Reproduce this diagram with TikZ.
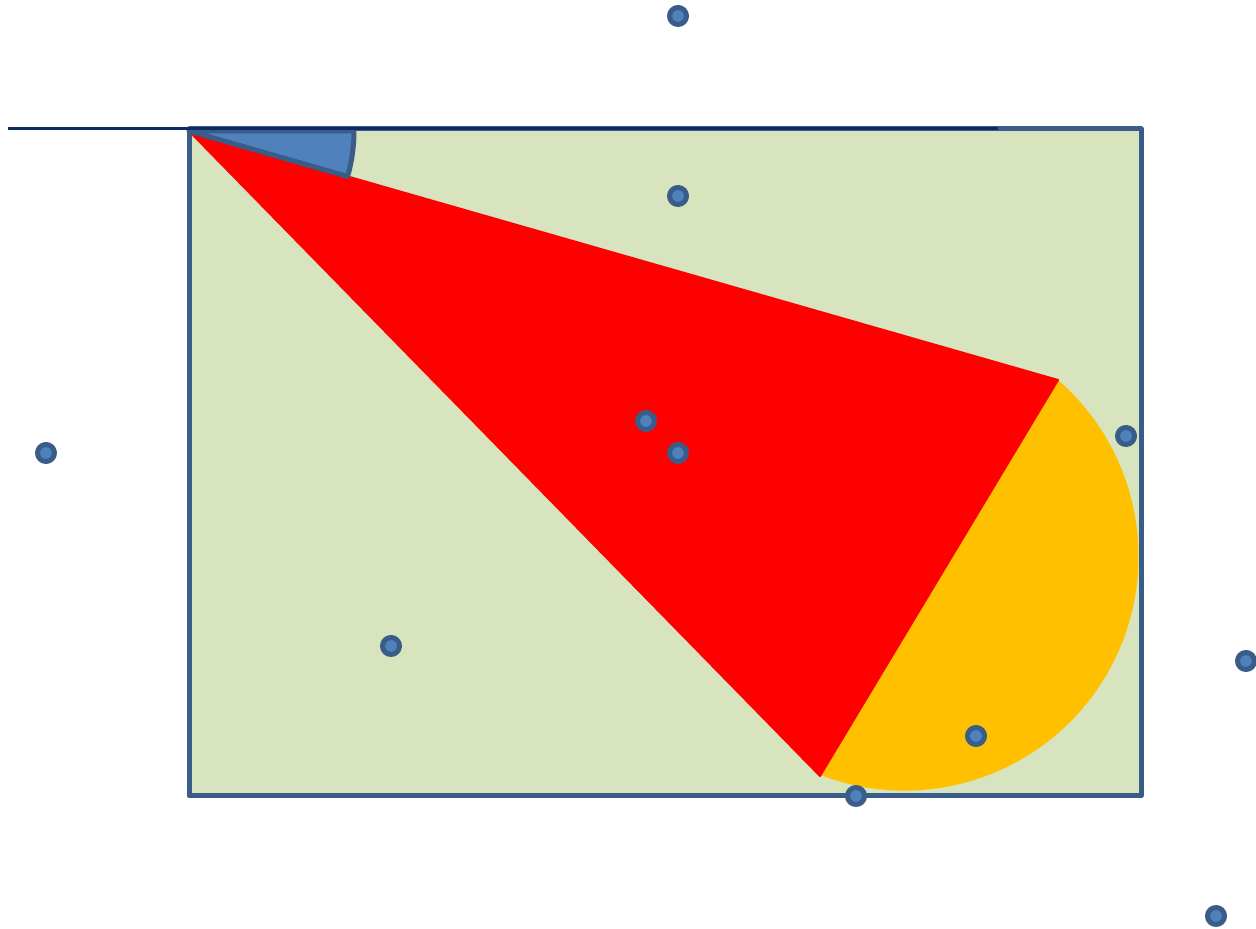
\documentclass[tikz,border=0pt]{standalone}
\usepackage{tikz}
\usetikzlibrary{calc}
\definecolor{frame}{HTML}{3A5C88}
\definecolor{pane}{HTML}{D8E4BD}
\definecolor{wedge}{HTML}{4F81BD}
\definecolor{navy}{HTML}{0E2A64}
\definecolor{gold}{HTML}{FFC000}
\begin{document}
\begin{tikzpicture}[x=1pt,y=1pt,line join=round,
   dot/.style={circle,fill=wedge,draw=frame,line width=5pt,inner sep=0pt,minimum size=17pt}]
  \useasboundingbox (0,0) rectangle (1256,929);
  \coordinate (A) at (189,798);
  \coordinate (B) at (1058,549);
  \coordinate (C) at (820,153);
  % box
  \draw[frame,fill=pane,line width=5pt] (189,133) rectangle (1141,800);
  % yellow segment
  \fill[gold] (B) arc[start angle=49,end angle=-111,radius=234] -- cycle;
  \filldraw[red,line width=2pt] (A) -- (B) -- (C) -- cycle;
  % angle mark
  \draw[frame,fill=wedge,line width=5pt] (A) -- ($(A)+(165,0)$) arc[start angle=0,end angle=-16,radius=165] -- cycle;
  \draw[navy,line width=3pt] (8,800) -- (998,800);
  % points
  \foreach \n/\x/\y in {p1/678/913,p2/678/733,p3/46/476,p4/646/508,p5/678/476,
      p6/1126/493,p7/391/283,p8/1246/268,p9/976/193,p10/856/133,p11/1216/13}
    \node[dot] (\n) at (\x,\y) {};
\end{tikzpicture}
\end{document}
